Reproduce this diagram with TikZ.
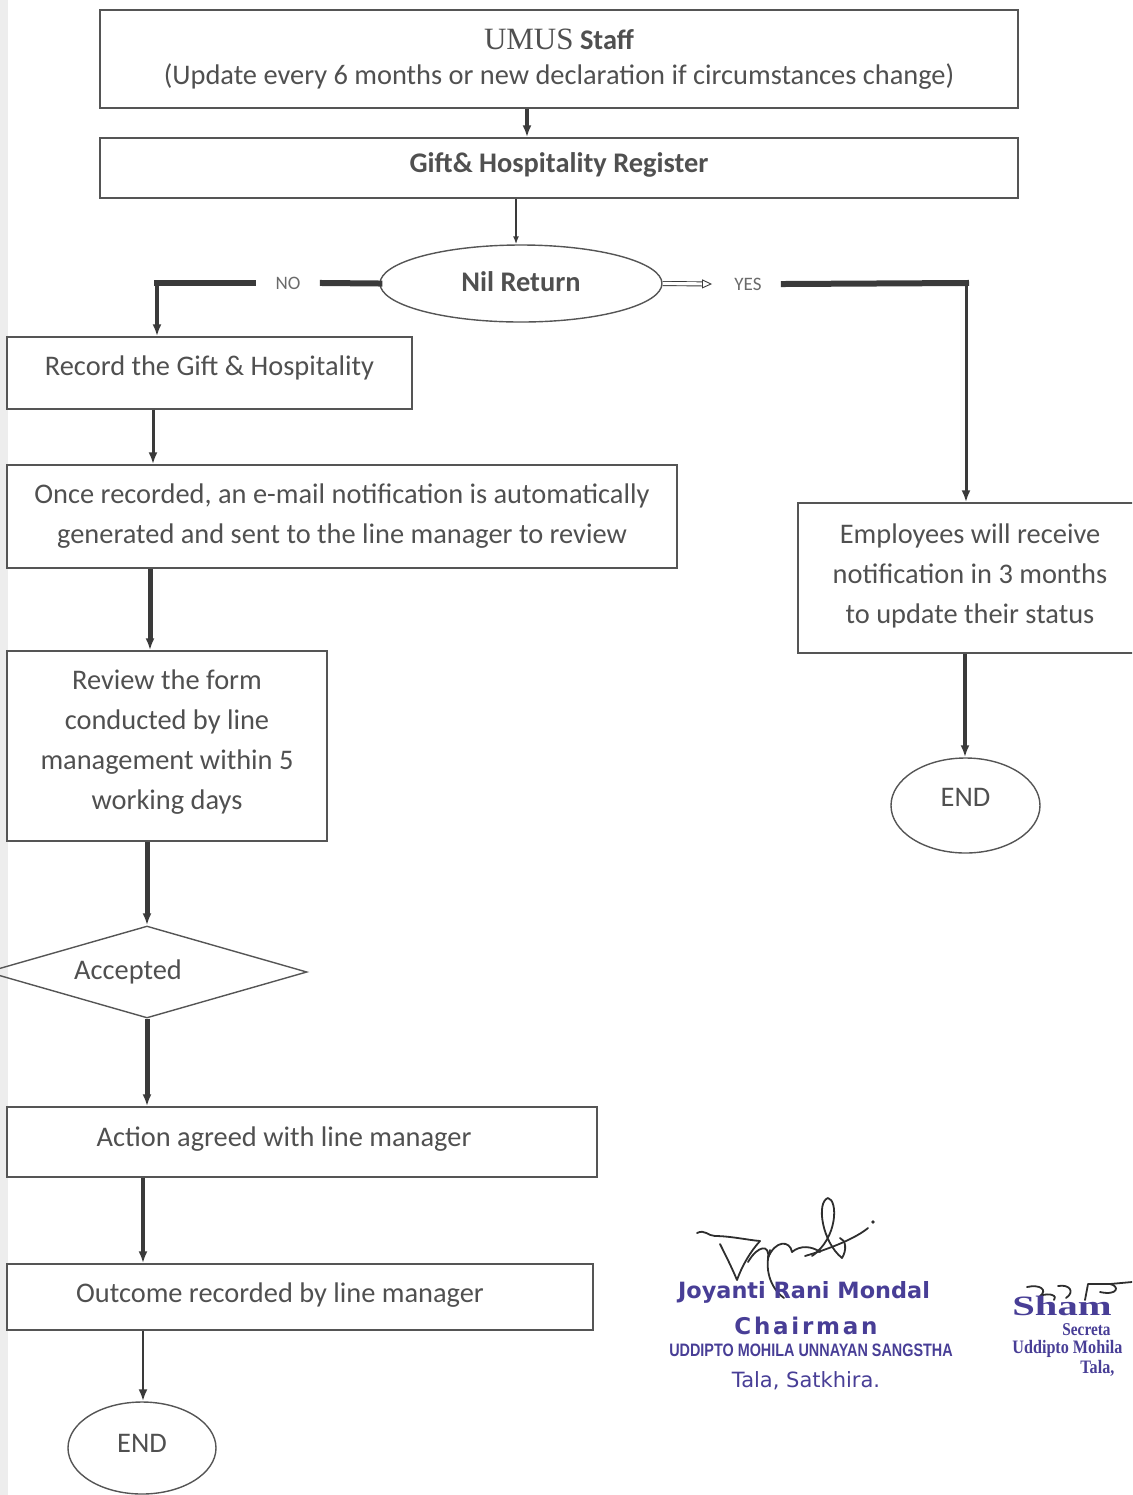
\documentclass[tikz,border=0pt]{standalone}
\usepackage{fontspec}
\setmainfont{Carlito}
\newfontfamily\serifumus{Liberation Serif}
\newfontfamily\stampsans{DejaVu Sans}
\newfontfamily\stampspaced[LetterSpace=12]{DejaVu Sans}
\newfontfamily\stampnarrow[FakeStretch=0.8]{Liberation Sans}
\newfontfamily\stampserif[FakeStretch=1.45]{Liberation Serif}
\newfontfamily\stampserifn[FakeStretch=0.85]{Liberation Serif}
\usetikzlibrary{shapes.geometric,arrows.meta}
\definecolor{txt}{HTML}{505050}
\definecolor{edgecol}{HTML}{555555}
\definecolor{arr}{HTML}{3A3A3A}
\definecolor{stampcol}{RGB}{72,62,150}
\definecolor{sigcol}{HTML}{2E2E2E}
\newcommand{\liftup}[2]{\raisebox{#1}[\height][\depth]{#2}}
\begin{document}
\begin{tikzpicture}[x=0.5pt,y=-0.5pt,
  box/.style={draw=edgecol, line width=0.7pt, rectangle, inner sep=0pt, align=center, text=txt},
  oval/.style={draw=edgecol, line width=0.7pt, ellipse, inner sep=0pt, align=center, text=txt},
  dia/.style={draw=edgecol, line width=0.7pt, diamond, inner sep=0pt, align=center, text=txt},
  flow/.style={draw=arr, -{Latex[length=6pt,width=4.5pt]}},
  hthick/.style={draw=arr, line width=3pt, line cap=rect},
  lbl/.style={text=txt!85, inner ysep=0pt, inner xsep=11pt, font=\fontsize{9.5}{11}\selectfont},
  sig/.style={draw=sigcol, line width=0.9pt, line cap=round, line join=round},
  stamp/.style={text=stampcol, inner sep=0pt},
  body/.style={font=\fontsize{14.2}{20}\selectfont}
]
\useasboundingbox (0,0) rectangle (1132,1495);
\clip (0,0) rectangle (1132,1495);
\fill[gray!14] (0,0) rectangle (8,1495);

% nodes
\node[box, minimum width=459pt, minimum height=49pt, font=\fontsize{14.2}{17.5}\selectfont] (top) at (559,59)
  {{\serifumus\fontsize{15.5}{17.5}\selectfont UMUS} \textbf{Staff}\\(Update every 6 months or new declaration if circumstances change)};
\node[box, minimum width=459pt, minimum height=30pt, font=\bfseries\fontsize{14.2}{16}\selectfont] (reg) at (559,168) {\liftup{1.5pt}{Gift\& Hospitality Register}};
\node[oval, minimum width=141pt, minimum height=38.5pt, font=\bfseries\fontsize{14.2}{16}\selectfont] (nil) at (521,283.5) {\liftup{1pt}{Nil Return}};
\node[box, body, minimum width=202.5pt, minimum height=36pt] (rec) at (209.5,373) {\liftup{2.5pt}{Record the Gift \& Hospitality}};
\node[box, body, minimum width=335pt, minimum height=51.5pt] (email) at (342,516.5)
  {Once recorded, an e-mail notification is automatically\\generated and sent to the line manager to review};
\node[box, body, minimum width=160pt, minimum height=95pt] (rev) at (167,746)
  {\liftup{2.5pt}{\begin{tabular}{@{}c@{}}Review the form\\conducted by line\\management within 5\\working days\end{tabular}}};
\node[dia, body, minimum width=160pt, minimum height=46pt, aspect=3.48] (acc) at (147,972) {Accepted\hspace*{19pt}};
\node[box, body, minimum width=295pt, minimum height=35pt] (act) at (302,1142) {\liftup{1.5pt}{Action agreed with line manager\hspace*{18pt}}};
\node[box, body, minimum width=293pt, minimum height=33pt] (out) at (300,1297) {\liftup{1pt}{Outcome recorded by line manager\hspace*{20pt}}};
\node[oval, body, minimum width=74pt, minimum height=46pt] (endL) at (142,1448) {\liftup{2.5pt}{END}};
\node[box, body, minimum width=172pt, minimum height=75pt] (emp) at (970,578)
  {\liftup{1.5pt}{\begin{tabular}{@{}c@{}}Employees will receive\\notification in 3 months\\to update their status\end{tabular}}};
\node[oval, body, minimum width=74.5pt, minimum height=47.5pt] (endR) at (965.5,805.5) {\liftup{4pt}{END}};

% branch labels
\node[lbl] (no) at (288,283) {NO};
\node[lbl] (yes) at (748,284) {YES};

% helper coordinates for connector columns
\coordinate (c527) at (527,0);
\coordinate (c516) at (516,0);
\coordinate (c153) at (153,0);
\coordinate (c150) at (150,0);
\coordinate (c143) at (143,0);
\coordinate (c965) at (965,0);
\coordinate (nocorner) at (157,283);
\coordinate (yescorner) at (966,283);

% connectors
\draw[flow, line width=2pt] (top.south -| c527) -- (reg.north -| c527);
\draw[flow, line width=1.4pt, -{Latex[length=4pt,width=3pt]}] (reg.south -| c516) -- (nil.north -| c516);
\draw[hthick] (nil.west) -- (no.east);
\draw[hthick] (no.west) -- (nocorner);
\draw[flow, line width=1.75pt] (nocorner) -- (rec.north -| nocorner);
\draw[draw=arr, line width=0.45pt, double=white, double distance=1.6pt, -{Triangle[open,length=5pt,width=4.5pt]}] (nil.east) -- (yes.west);
\draw[hthick] (yes.east) -- (yescorner);
\draw[flow, line width=1.5pt] (yescorner) -- (emp.north -| yescorner);
\draw[flow, line width=1.5pt] (rec.south -| c153) -- (email.north -| c153);
\draw[flow, line width=2.5pt] (email.south -| c150) -- (rev.north -| c150);
\draw[flow, line width=2.5pt] (rev.south -| acc.north) -- (acc.north);
\draw[flow, line width=2.5pt] (acc.south) -- (act.north -| acc.south);
\draw[flow, line width=2pt] (act.south -| c143) -- (out.north -| c143);
\draw[flow, line width=1.25pt] (out.south -| c143) -- (endL.north -| c143);
\draw[flow, line width=2.25pt] (emp.south -| c965) -- (endR.north -| c965);

% signature 1
\draw[sig] (697,1233) .. controls (705,1229) and (708,1236) .. (715,1236) .. controls (730,1236) and (748,1240) .. (760,1241);
\draw[sig] (720,1244) .. controls (726,1256) and (732,1268) .. (737,1280) .. controls (742,1266) and (750,1252) .. (760,1241);
\draw[sig] (748,1262) .. controls (758,1245) and (770,1244) .. (768,1258) .. controls (775,1240) and (790,1240) .. (792,1252) .. controls (800,1245) and (812,1246) .. (820,1252);
\draw[sig] (812,1256) .. controls (838,1238) and (838,1200) .. (828,1198) .. controls (816,1202) and (822,1242) .. (842,1258) .. controls (847,1250) and (846,1240) .. (840,1238);
\draw[sig] (805,1256) .. controls (832,1248) and (856,1238) .. (868,1228);
\fill[sigcol] (873,1222) circle (1.8);
\draw[sig] (770,1250) .. controls (764,1268) and (770,1288) .. (784,1298);

% stamp 1
\node[stamp, font=\stampsans\bfseries\fontsize{11.2}{13}\selectfont] (sname) at (804,1292) {Joyanti Rani Mondal};
\node[stamp, font=\stampspaced\bfseries\fontsize{11.5}{13}\selectfont] (stitle) at (806,1326) {Chairman};
\node[stamp, font=\stampnarrow\bfseries\fontsize{9}{11}\selectfont] (sorg) at (811,1350) {UDDIPTO MOHILA UNNAYAN SANGSTHA};
\node[stamp, font=\stampsans\fontsize{10.5}{12}\selectfont] (splace) at (806,1381) {Tala, Satkhira.};

% signature 2
\draw[sig] (1027,1287) .. controls (1040,1284) and (1048,1290) .. (1040,1296) .. controls (1050,1292) and (1058,1296) .. (1054,1300);
\draw[sig] (1058,1286) .. controls (1070,1284) and (1075,1292) .. (1066,1298);
\draw[sig] (1085,1300) -- (1088,1284) -- (1110,1284) .. controls (1120,1286) and (1118,1296) .. (1100,1292);
\draw[sig] (1110,1284) -- (1132,1282);

% stamp 2
\node[stamp, anchor=west, font=\stampserif\bfseries\fontsize{14}{15}\selectfont] (s2name) at (1012,1306) {Sham};
\node[stamp, anchor=west, font=\stampserifn\bfseries\fontsize{9}{10}\selectfont] (s2title) at (1062,1330) {Secreta};
\node[stamp, anchor=west, font=\stampserifn\bfseries\fontsize{9.5}{11}\selectfont] (s2org) at (1012,1349) {Uddipto Mohila};
\node[stamp, anchor=west, font=\stampserifn\bfseries\fontsize{9.5}{11}\selectfont] (s2place) at (1080,1368) {Tala,};
\end{tikzpicture}
\end{document}
